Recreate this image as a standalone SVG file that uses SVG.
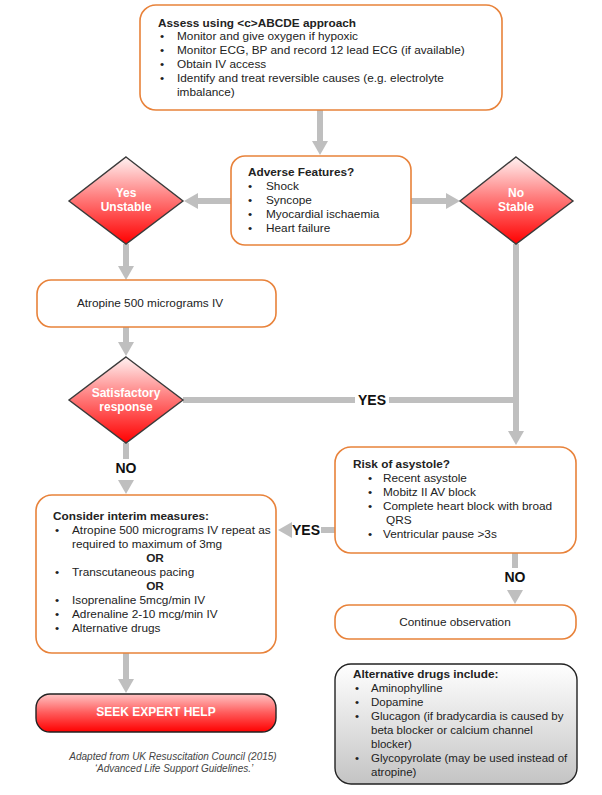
<svg xmlns="http://www.w3.org/2000/svg" width="602" height="795" viewBox="0 0 602 795">
<defs>
<linearGradient id="gDia" x1="0" y1="0" x2="0" y2="1">
<stop offset="0" stop-color="#FFF2F2"/>
<stop offset="0.45" stop-color="#FF8080"/>
<stop offset="1" stop-color="#FF0000"/>
</linearGradient>
<linearGradient id="gSeek" x1="0" y1="0" x2="0" y2="1">
<stop offset="0" stop-color="#FFC4C4"/>
<stop offset="0.5" stop-color="#FF5A5A"/>
<stop offset="1" stop-color="#FF0000"/>
</linearGradient>
<linearGradient id="gGrey" x1="0" y1="0" x2="0" y2="1">
<stop offset="0" stop-color="#FFFFFF"/>
<stop offset="1" stop-color="#C4C4C4"/>
</linearGradient>
<marker id="ah" markerUnits="userSpaceOnUse" markerWidth="16" markerHeight="16" refX="1" refY="8" orient="auto">
<path d="M0,0 L14,8 L0,16 z" fill="#BFBFBF"/>
</marker>
</defs>
<style>
text{font-family:"Liberation Sans",Arial,sans-serif;font-size:11.8px;fill:#222}
.b{font-weight:bold}
.box{fill:#fff;stroke:#E8823A;stroke-width:1.6}
.dia{fill:url(#gDia);stroke:#3A3A3A;stroke-width:1.4}
.dt{fill:#fff;font-weight:bold;text-anchor:middle;font-size:12px}
.c{fill:none;stroke:#BFBFBF;stroke-width:6}
.ah{fill:#BFBFBF}
.lbl{font-weight:bold;font-size:14px;fill:#111;text-anchor:middle}
.mid{text-anchor:middle}
.sm{font-size:11.5px}
.cap{font-style:italic;font-size:10px;fill:#444;text-anchor:middle}
</style>
<rect width="602" height="795" fill="#fff"/>

<g id="connectors">
<path class="c" d="M320,110 V142" marker-end="url(#ah)"/>
<path class="c" d="M231,201 H197" marker-end="url(#ah)"/>
<path class="c" d="M411,201 H447" marker-end="url(#ah)"/>
<path class="c" d="M126,244 V267" marker-end="url(#ah)"/>
<path class="c" d="M126,327 V343" marker-end="url(#ah)"/>
<path class="c" d="M126,443 V459"/>
<polygon class="ah" points="118,480 134,480 126,494"/>
<path class="c" d="M516,244 V432" marker-end="url(#ah)"/>
<path class="c" d="M183,400 H355"/>
<path class="c" d="M389,400 H516"/>
<path class="c" d="M335,530 H321"/>
<polygon class="ah" points="292,522 292,538 278,530"/>
<path class="c" d="M515,553 V568"/>
<polygon class="ah" points="507,590 523,590 515,604"/>
<path class="c" d="M126,653 V680" marker-end="url(#ah)"/>
<text class="lbl" x="372" y="405">YES</text>
<text class="lbl" x="306" y="535">YES</text>
<text class="lbl" x="126" y="473">NO</text>
<text class="lbl" x="515" y="582">NO</text>
</g>

<g id="assess">
<rect class="box" x="140" y="5" width="362" height="105" rx="16"/>
<text class="b" x="158" y="27">Assess using &lt;c&gt;ABCDE approach</text>
<text x="160" y="40">•</text><text x="177" y="40">Monitor and give oxygen if hypoxic</text>
<text x="160" y="54">•</text><text x="177" y="54">Monitor ECG, BP and record 12 lead ECG (if available)</text>
<text x="160" y="68">•</text><text x="177" y="68">Obtain IV access</text>
<text x="160" y="82">•</text><text x="177" y="82">Identify and treat reversible causes (e.g. electrolyte</text>
<text x="177" y="96">imbalance)</text>
</g>

<g id="adverse">
<rect class="box" x="231" y="156" width="180" height="89" rx="14"/>
<text class="b" x="248" y="176">Adverse Features?</text>
<text x="248" y="190">•</text><text x="266" y="190">Shock</text>
<text x="248" y="204">•</text><text x="266" y="204">Syncope</text>
<text x="248" y="218">•</text><text x="266" y="218">Myocardial ischaemia</text>
<text x="248" y="232">•</text><text x="266" y="232">Heart failure</text>
</g>

<g id="unstable">
<polygon class="dia" points="126,157 183,201 126,244 69,201"/>
<text class="dt" x="126" y="197">Yes</text>
<text class="dt" x="126" y="211">Unstable</text>
</g>

<g id="stable">
<polygon class="dia" points="516,157 573,201 516,244 460,201"/>
<text class="dt" x="516" y="197">No</text>
<text class="dt" x="516" y="211">Stable</text>
</g>

<g id="atropine">
<rect class="box" x="37" y="280" width="239" height="47" rx="14"/>
<text class="mid" x="150" y="307">Atropine 500 micrograms IV</text>
</g>

<g id="satisfactory">
<polygon class="dia" points="126,357 183,400 126,443 69,400"/>
<text class="dt" x="126" y="397">Satisfactory</text>
<text class="dt" x="126" y="411">response</text>
</g>

<g id="risk">
<rect class="box" x="335" y="447" width="241" height="106" rx="16"/>
<text class="b" x="353" y="468">Risk of asystole?</text>
<text x="368" y="482">•</text><text x="383" y="482">Recent asystole</text>
<text x="368" y="496">•</text><text x="383" y="496">Mobitz II AV block</text>
<text x="368" y="510">•</text><text x="383" y="510">Complete heart block with broad</text>
<text x="386" y="524">QRS</text>
<text x="368" y="538">•</text><text x="383" y="538">Ventricular pause &gt;3s</text>
</g>

<g id="interim">
<rect class="box" x="36" y="495" width="240" height="158" rx="16"/>
<text class="b" x="53" y="520">Consider interim measures:</text>
<text x="55" y="534">•</text><text x="72" y="534">Atropine 500 micrograms IV repeat as</text>
<text x="72" y="548">required to maximum of 3mg</text>
<text class="b mid" x="155" y="562">OR</text>
<text x="55" y="576">•</text><text x="72" y="576">Transcutaneous pacing</text>
<text class="b mid" x="155" y="590">OR</text>
<text x="55" y="604">•</text><text x="72" y="604">Isoprenaline 5mcg/min IV</text>
<text x="55" y="618">•</text><text x="72" y="618">Adrenaline 2-10 mcg/min IV</text>
<text x="55" y="632">•</text><text x="72" y="632">Alternative drugs</text>
</g>

<g id="continue">
<rect class="box" x="335" y="605" width="241" height="34" rx="14"/>
<text class="mid" x="455" y="626">Continue observation</text>
</g>

<g id="seek">
<rect x="36" y="694" width="240" height="38" rx="14" fill="url(#gSeek)" stroke="#222" stroke-width="1.4"/>
<text class="dt" x="156" y="716">SEEK EXPERT HELP</text>
</g>

<g id="alternative">
<rect x="335" y="664" width="242" height="120" rx="16" fill="url(#gGrey)" stroke="#222" stroke-width="1.4"/>
<text class="b" x="353" y="678">Alternative drugs include:</text>
<text class="sm" x="355" y="692">•</text><text class="sm" x="371" y="692">Aminophylline</text>
<text class="sm" x="355" y="706">•</text><text class="sm" x="371" y="706">Dopamine</text>
<text class="sm" x="355" y="720">•</text><text class="sm" x="371" y="720">Glucagon (if bradycardia is caused by</text>
<text class="sm" x="371" y="734">beta blocker or calcium channel</text>
<text class="sm" x="371" y="748">blocker)</text>
<text class="sm" x="355" y="762">•</text><text class="sm" x="371" y="762">Glycopyrolate (may be used instead of</text>
<text class="sm" x="371" y="776">atropine)</text>
</g>

<g id="caption">
<text class="cap" x="173" y="760">Adapted from UK Resuscitation Council (2015)</text>
<text class="cap" x="174" y="772">‘Advanced Life Support Guidelines.’</text>
</g>
</svg>
